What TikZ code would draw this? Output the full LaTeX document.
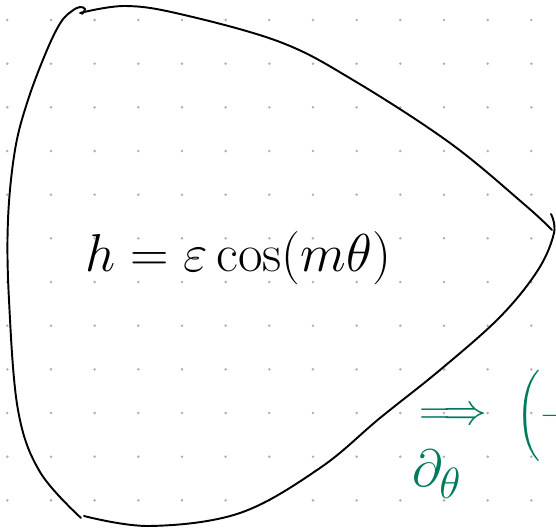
\documentclass[tikz,border=0pt]{standalone}
\usepackage{graphicx}
\usepackage{amsmath,amssymb}
\usepackage{tikz,xcolor}
\usetikzlibrary{calc}
\definecolor{penblack}{RGB}{0,0,0}
\definecolor{pengreen}{RGB}{0,122,94}
\definecolor{dotgray}{RGB}{175,175,175}
\tikzset{
  gridpt/.style={fill=dotgray},
  ink/.style={draw=penblack,line width=1.1pt,line cap=round,line join=round},
  greenink/.style={text=pengreen,inner sep=0pt}
}
\begin{document}
\begin{tikzpicture}[x=0.02cm,y=-0.02cm]
\useasboundingbox (0,0) rectangle (556,530);
\clip (0,0) rectangle (556,530);
% dotted paper
\foreach \i in {0,...,12}
  \foreach \j in {0,...,11}
    \fill[gridpt] (7.3+43.67*\i,20+43.67*\j) circle (1.4);
% the closed curve, three strokes
\draw[ink] plot[smooth,tension=0.6] coordinates {(80,13) (125,6) (180,14) (280,42) (353,80) (450,143) (525,205) (552,230)};
\draw[ink] plot[smooth,tension=0.6] coordinates {(551,214) (554,233) (538,270) (500,317) (440,370) (380,418) (320,468) (240,513) (150,526) (84,516)};
\draw[ink] plot[smooth,tension=0.6] coordinates {(81,518) (40,472) (18,410) (9,300) (8,220) (15,150) (28,100) (47,50) (61,22) (72,11) (80,7) (85,9) (82,14)};
% formula
\node[anchor=base west,inner sep=0pt] (formula) at (85,272) {\scalebox{1.22}{\Huge $h = \varepsilon\cos(m\theta)$}};
% green notes
\node[greenink] (implies) at (453,416) {\Huge $\Longrightarrow$};
\node[greenink] (dtheta) at (437,474) {\scalebox{1.2}{\Huge $\partial_\theta$}};
\node[greenink,anchor=west] (bracket) at (516,416) {\LARGE $\Bigg(-$};
\end{tikzpicture}
\end{document}
